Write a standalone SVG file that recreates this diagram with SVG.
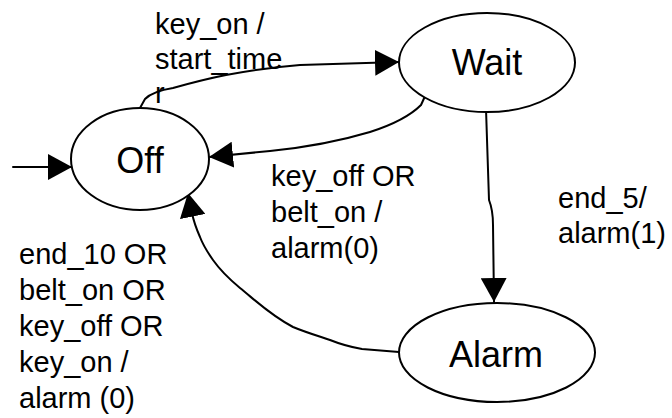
<svg xmlns="http://www.w3.org/2000/svg" width="672" height="418" viewBox="0 0 672 418">
  <defs>
    <style>
      .state { fill: #ffffff; stroke: #000000; stroke-width: 2; }
      .state-name { font-family: "Liberation Sans", Arial, sans-serif; font-size: 36px; fill: #000000; text-anchor: middle; }
      .edge { fill: none; stroke: #000000; stroke-width: 2; stroke-linejoin: round; stroke-linecap: round; }
      .label { font-family: "Liberation Sans", Arial, sans-serif; font-size: 29px; fill: #000000; }
    </style>
    <marker id="arrow" markerUnits="userSpaceOnUse" markerWidth="24" markerHeight="26" refX="24" refY="13" orient="auto">
      <path d="M0,0 L24,13 L0,26 Z" fill="#000000"/>
    </marker>
  </defs>

  <!-- transitions -->
  <g id="connectors">
    <!-- initial transition into Off -->
    <path class="edge" d="M13,167 L72,167" marker-end="url(#arrow)"/>
    <!-- Off -> Wait : key_on / start_timer -->
    <path class="edge" d="M140,108 L145,99 C150,94 160,90 173,88 C205,79 240,70 300,65 L399,62" marker-end="url(#arrow)"/>
    <!-- Wait -> Off : key_off OR belt_on / alarm(0) -->
    <path class="edge" d="M426,94 L421,105 C410,116 395,124 370,132 C340,141 300,148 270,151 L209,157" marker-end="url(#arrow)"/>
    <!-- Wait -> Alarm : end_5/ alarm(1) -->
    <path class="edge" d="M486,109 L489,200 Q493,210 493,225 L494,302" marker-end="url(#arrow)"/>
    <!-- Alarm -> Off : end_10 OR belt_on OR key_off OR key_on / alarm (0) -->
    <path class="edge" d="M399,352 L362,349 C350,347 340,344 330,340 C315,335 305,332 293,327 C270,315 255,300 240,288 C228,278 220,270 213,260 C206,250 203,245 200,237 C196,228 193,218 192,213 L188,193" marker-end="url(#arrow)"/>
  </g>

  <!-- states -->
  <g id="off">
    <ellipse class="state" cx="140" cy="159" rx="69" ry="51"/>
    <text class="state-name" x="140" y="173">Off</text>
  </g>
  <g id="wait">
    <ellipse class="state" cx="487" cy="62.5" rx="88" ry="49.5"/>
    <text class="state-name" x="487" y="75">Wait</text>
  </g>
  <g id="alarm">
    <ellipse class="state" cx="497" cy="352.5" rx="98" ry="49.5"/>
    <text class="state-name" x="496" y="367">Alarm</text>
  </g>

  <!-- transition labels -->
  <g id="labels">
    <text class="label" x="155" y="34">key_on /</text>
    <text class="label" x="155" y="68.5">start_time</text>
    <text class="label" x="155" y="103">r</text>

    <text class="label" x="271" y="186">key_off OR</text>
    <text class="label" x="271" y="222">belt_on /</text>
    <text class="label" x="271" y="258">alarm(0)</text>

    <text class="label" x="558" y="208">end_5/</text>
    <text class="label" x="558" y="243">alarm(1)</text>

    <text class="label" x="19" y="264">end_10 OR</text>
    <text class="label" x="19" y="300">belt_on OR</text>
    <text class="label" x="19" y="336">key_off OR</text>
    <text class="label" x="19" y="372">key_on /</text>
    <text class="label" x="19" y="408">alarm (0)</text>
  </g>
</svg>
